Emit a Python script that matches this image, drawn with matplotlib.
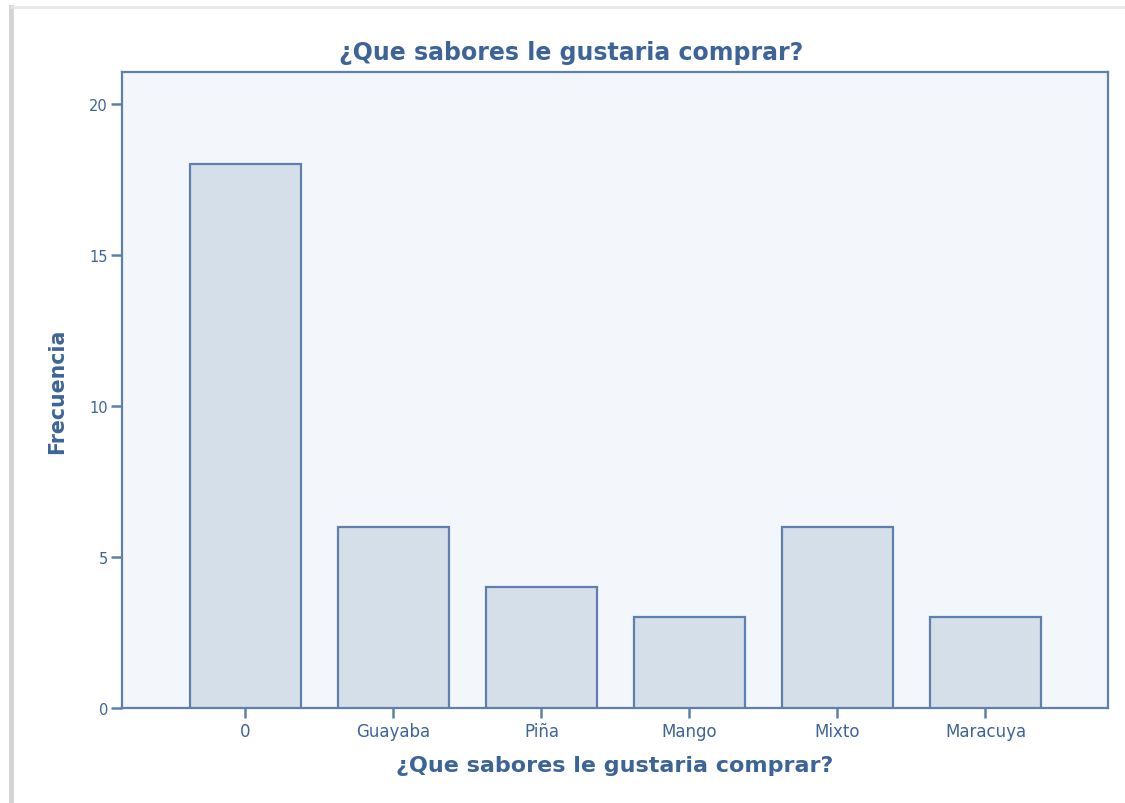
import matplotlib
matplotlib.use("Agg")
import matplotlib.pyplot as plt
from matplotlib.lines import Line2D

categories = ["0", "Guayaba", "Piña", "Mango", "Mixto", "Maracuya"]
frecuencia = [18, 6, 4, 3, 6, 3]
y_ticks = [0, 5, 10, 15, 20]

title_txt = "¿Que sabores le gustaria comprar?"
xlabel_txt = "¿Que sabores le gustaria comprar?"
ylabel_txt = "Frecuencia"

text_blue = "#3d6499"
edge_blue = "#5d80ad"
bar_fill = "#d5dfe9"
panel_bg = "#f3f6fb"

plt.rcParams["font.family"] = ["DejaVu Sans"]

fig = plt.figure(figsize=(11.25, 8.04), dpi=100)
fig.patch.set_facecolor("white")

# soft frame shadow along the top and left edges
fig.add_artist(Line2D([0.0098, 0.0098], [0.0, 0.99], transform=fig.transFigure,
                      color="#c8c8c8", lw=3.5, alpha=0.8))
fig.add_artist(Line2D([0.0098, 1.0], [0.99, 0.99], transform=fig.transFigure,
                      color="#e6e6e6", lw=2, alpha=0.9))

ax = fig.add_axes([0.1084, 0.1182, 0.8765, 0.791])
ax.set_facecolor(panel_bg)

x = list(range(len(categories)))
ax.bar(x, frecuencia, width=0.75, color=bar_fill, edgecolor=edge_blue,
       linewidth=1.6, zorder=3)

ax.set_xlim(-0.834, 5.828)
ax.set_ylim(0, 21.06)
ax.set_yticks(y_ticks)
ax.set_xticks(x)
ax.set_xticklabels(categories)

for s in ax.spines.values():
    s.set_color(edge_blue)
    s.set_linewidth(1.6)

ax.tick_params(axis="both", colors=edge_blue, labelcolor=text_blue, width=1.8)
ax.tick_params(axis="y", length=8, pad=2, labelsize=10.5)
ax.tick_params(axis="x", length=7, pad=3, labelsize=12)

fig.text(0.508, 0.934, title_txt, color=text_blue, fontsize=17, fontweight="bold",
         ha="center", va="center")
ax.set_xlabel(xlabel_txt, color=text_blue, fontsize=16, fontweight="bold", labelpad=11)
ax.set_ylabel(ylabel_txt, color=text_blue, fontsize=14.8, fontweight="bold", labelpad=16)

fig.savefig("out.png", dpi=100, facecolor="white")
